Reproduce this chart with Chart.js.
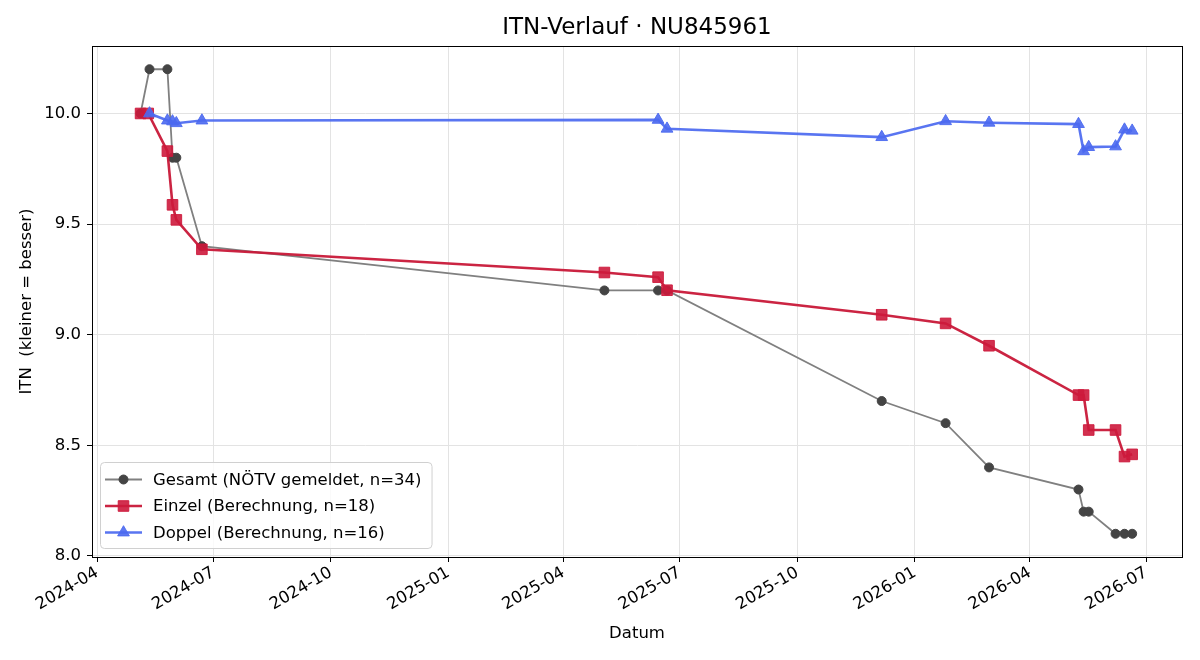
<!DOCTYPE html>
<html lang="de">
<head>
<meta charset="UTF-8">
<title>ITN-Verlauf</title>
<script src="https://cdn.jsdelivr.net/npm/chart.js"></script>
<style>
  body { margin: 0; background: #fff; }
  #wrap { width: 1200px; height: 660px; }
</style>
</head>
<body>
<div id="wrap"><canvas id="itnChart" width="1200" height="660"></canvas></div>
<script>
// Daten
const gesamtDates = ['2024-05-05','2024-05-12','2024-05-26','2024-05-30','2024-06-02','2024-06-22','2025-05-03','2025-06-14','2025-06-21','2025-12-06','2026-01-25','2026-02-28','2026-05-09','2026-05-13','2026-05-17','2026-06-07','2026-06-14','2026-06-20'];
const gesamtValues = [10.0, 10.2, 10.2, 9.8, 9.8, 9.4, 9.2, 9.2, 9.2, 8.7, 8.6, 8.4, 8.3, 8.2, 8.2, 8.1, 8.1, 8.1];

const einzelDates = ['2024-05-05','2024-05-11','2024-05-26','2024-05-30','2024-06-02','2024-06-22','2025-05-03','2025-06-14','2025-06-21','2025-12-06','2026-01-25','2026-02-28','2026-05-09','2026-05-13','2026-05-17','2026-06-07','2026-06-14','2026-06-20'];
const einzelValues = [10.0, 10.0, 9.83, 9.587, 9.519, 9.386, 9.281, 9.26, 9.201, 9.09, 9.051, 8.95, 8.727, 8.727, 8.569, 8.569, 8.449, 8.459];

const doppelDates = ['2024-05-12','2024-05-26','2024-05-30','2024-06-02','2024-06-22','2025-06-14','2025-06-21','2025-12-06','2026-01-25','2026-02-28','2026-05-09','2026-05-13','2026-05-17','2026-06-07','2026-06-14','2026-06-20'];
const doppelValues = [10.0, 9.968, 9.964, 9.956, 9.968, 9.971, 9.931, 9.893, 9.965, 9.958, 9.952, 9.829, 9.848, 9.851, 9.927, 9.922];

const xTickLabels = ['2024-04','2024-07','2024-10','2025-01','2025-04','2025-07','2025-10','2026-01','2026-04','2026-07'];
const yTicks = [8.0, 8.5, 9.0, 9.5, 10.0];
const xRange = ['2024-03-28', '2026-07-29'];
const yRange = [7.995, 10.305];

const chartTitle = 'ITN-Verlauf · NU845961';
const seriesNames = ['Gesamt (NÖTV gemeldet, n=34)', 'Einzel (Berechnung, n=18)', 'Doppel (Berechnung, n=16)'];

// Datum -> Tag (UTC)
function toDay(s) {
    const p = s.split('-').map(Number);
    return Date.UTC(p[0], p[1] - 1, p[2] || 1) / 86400000;
}
function fromDay(d) {
    const dt = new Date(d * 86400000);
    return dt.getUTCFullYear() + '-' + String(dt.getUTCMonth() + 1).padStart(2, '0');
}
function pts(dates, values) {
    return dates.map((d, i) => ({ x: toDay(d), y: values[i] }));
}

const styles = [
    { line: '#808080', point: '#444444', style: 'circle', radius: 4.5, width: 1.8 },
    { line: 'rgba(200,24,56,0.95)', point: 'rgba(205,25,60,0.9)', style: 'rect', radius: 7.5, width: 2.6 },
    { line: 'rgba(75,105,240,0.92)', point: 'rgba(75,105,240,0.9)', style: 'triangle', radius: 6.8, width: 2.6 }
];

const baseSize = 16.5;
Chart.defaults.font.family = '"DejaVu Sans", sans-serif';
Chart.defaults.color = '#000';

// Titel über dem Plotbereich, Rahmen, Legende unten links
const boxPlugin = {
    id: 'boxPlugin',
    afterDraw(chart) {
        const ctx = chart.ctx;
        const a = chart.chartArea;
        ctx.save();
        ctx.strokeStyle = '#000';
        ctx.lineWidth = 1;
        ctx.strokeRect(Math.round(a.left) + 0.5, Math.round(a.top) + 0.5, Math.round(a.right - a.left), Math.round(a.bottom - a.top));

        // Titel
        ctx.font = '23px "DejaVu Sans"';
        ctx.fillStyle = '#000';
        ctx.textAlign = 'center';
        ctx.textBaseline = 'middle';
        ctx.fillText(chartTitle, (a.left + a.right) / 2, 28);

        // Legende
        ctx.font = baseSize + 'px "DejaVu Sans"';
        let tw = 0;
        seriesNames.forEach(n => { tw = Math.max(tw, ctx.measureText(n).width); });
        const bx = a.left + 8, bw = 53 + tw + 10, bh = 86;
        const by = a.bottom - 9 - bh;
        ctx.fillStyle = 'rgba(255,255,255,0.8)';
        ctx.strokeStyle = '#d0d0d0';
        ctx.beginPath();
        ctx.roundRect(bx + 0.5, by + 0.5, bw, bh, 4);
        ctx.fill();
        ctx.stroke();
        seriesNames.forEach((n, i) => {
            const s = styles[i];
            const y = by + 17.5 + i * 26.5;
            ctx.strokeStyle = s.line;
            ctx.lineWidth = s.width;
            ctx.beginPath();
            ctx.moveTo(bx + 5, y);
            ctx.lineTo(bx + 42, y);
            ctx.stroke();
            ctx.fillStyle = s.point;
            ctx.strokeStyle = s.point;
            ctx.lineWidth = 1;
            Chart.helpers.drawPoint(ctx, { pointStyle: s.style, radius: s.radius, rotation: 0, borderWidth: 1 }, bx + 23.5, y);
            ctx.fillStyle = '#000';
            ctx.textBaseline = 'middle';
            ctx.textAlign = 'left';
            ctx.fillText(n, bx + 53, y + 1);
        });
        ctx.restore();
    }
};

const allData = [pts(gesamtDates, gesamtValues), pts(einzelDates, einzelValues), pts(doppelDates, doppelValues)];

new Chart(document.getElementById('itnChart'), {
    type: 'line',
    data: {
        datasets: allData.map((d, i) => ({
            label: seriesNames[i],
            data: d,
            borderColor: styles[i].line,
            borderWidth: styles[i].width,
            pointStyle: styles[i].style,
            pointRadius: styles[i].radius,
            pointBackgroundColor: styles[i].point,
            pointBorderColor: styles[i].point,
            pointBorderWidth: 1,
            tension: 0,
            fill: false,
            order: 3 - i
        }))
    },
    options: {
        responsive: false,
        animation: false,
        layout: { padding: { left: 0, right: 18, top: 46, bottom: 0 } },
        plugins: {
            legend: { display: false },
            tooltip: { enabled: false },
            title: { display: false }
        },
        scales: {
            x: {
                type: 'linear',
                min: toDay(xRange[0]),
                max: toDay(xRange[1]),
                afterBuildTicks: s => { s.ticks = xTickLabels.map(l => ({ value: toDay(l + '-01') })); },
                afterFit: s => { s.height = 103; },
                ticks: {
                    autoSkip: false,
                    minRotation: 30,
                    maxRotation: 30,
                    font: { size: baseSize },
                    color: '#000',
                    padding: 1,
                    callback: v => fromDay(v)
                },
                grid: { color: '#e3e3e3', tickColor: '#000', tickLength: 5 },
                border: { color: '#000' },
                title: { display: true, text: 'Datum', font: { size: baseSize }, color: '#000', padding: { top: 4, bottom: 16 } }
            },
            y: {
                min: yRange[0],
                max: yRange[1],
                afterBuildTicks: s => { s.ticks = yTicks.map(v => ({ value: v })); },
                afterFit: s => { s.width = 92; },
                ticks: {
                    font: { size: baseSize },
                    color: '#000',
                    padding: 6,
                    callback: v => v.toFixed(1)
                },
                grid: { color: '#e3e3e3', tickColor: '#000', tickLength: 5 },
                border: { color: '#000' },
                title: { display: true, text: 'ITN  (kleiner = besser)', font: { size: baseSize }, color: '#000', padding: { top: 17, bottom: 4 } }
            }
        }
    },
    plugins: [boxPlugin]
});
</script>
</body>
</html>
